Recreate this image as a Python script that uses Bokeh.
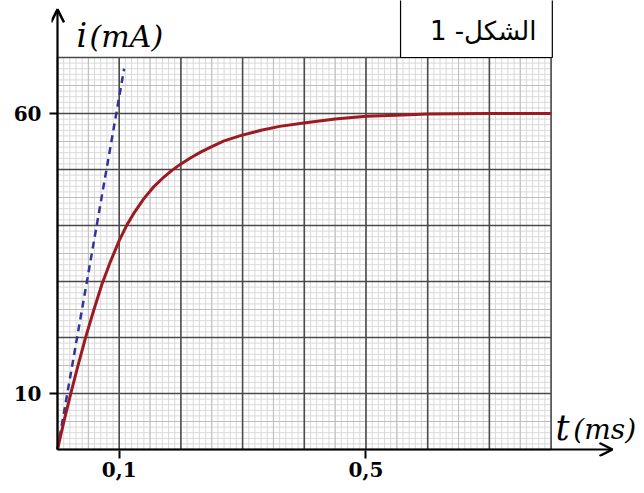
import numpy as np
from bokeh.plotting import figure
from bokeh.models import Range1d, LinearAxis, FixedTicker, Arrow, OpenHead, Label
from bokeh.embed import file_html
from bokeh.resources import INLINE

# data
t_ms = [0, 0.011, 0.022, 0.033, 0.045, 0.058, 0.072, 0.086, 0.1, 0.113, 0.125, 0.14, 0.155,
        0.17, 0.185, 0.2, 0.216, 0.232, 0.25, 0.27, 0.298, 0.33, 0.36, 0.399, 0.45, 0.5,
        0.55, 0.6, 0.7, 0.8]
i_mA = [0, 5.3, 10.2, 14.9, 19.8, 24.6, 29.5, 33.6, 37.3, 40.2, 42.4, 44.8, 46.8,
        48.4, 49.8, 51.0, 52.1, 53.1, 54.1, 55.1, 56.1, 57.0, 57.7, 58.3, 59.0, 59.5,
        59.7, 59.9, 60, 60]
tangent_t = [0, 0.108]
tangent_i = [0, 68]
x_ticks = [0.1, 0.5]
x_tick_labels = {0.1: "0,1", 0.5: "0,5"}
y_ticks = [10, 60]
grid_t_max = 0.8
grid_i_max = 70

W, H = 644, 493
p = figure(width=W, height=H, output_backend="svg", toolbar_location=None,
           x_range=Range1d(-0.00972, 0.9514), y_range=Range1d(-1.25, 80.18),
           x_axis_type=None, y_axis_type=None)
p.min_border = 0
p.min_border_left = 51
p.min_border_right = 0
p.min_border_top = 0
p.min_border_bottom = 37
p.outline_line_color = None
p.background_fill_color = "white"
p.grid.visible = False

# millimetre grid
def vlines(xs, color, w):
    p.segment(x0=xs, y0=np.zeros_like(xs), x1=xs, y1=np.full_like(xs, grid_i_max),
              line_color=color, line_width=w)

def hlines(ys, color, w):
    p.segment(x0=np.zeros_like(ys), y0=ys, x1=np.full_like(ys, grid_t_max), y1=ys,
              line_color=color, line_width=w)

minor_x = np.round(np.arange(0, grid_t_max + 1e-9, 0.01), 4)
minor_y = np.arange(0, grid_i_max + 1e-9, 1.0)
mid_x = np.round(np.arange(0.05, grid_t_max, 0.1), 4)
mid_y = np.arange(5, grid_i_max, 10.0)
major_x = np.round(np.arange(0, grid_t_max + 1e-9, 0.1), 4)
major_y = np.arange(0, grid_i_max + 1e-9, 10.0)
vlines(minor_x, "#d9d9d9", 1)
hlines(minor_y, "#d9d9d9", 1)
vlines(mid_x, "#bdbdbd", 1)
hlines(mid_y, "#bdbdbd", 1)
vlines(major_x, "#4a4a4a", 1.6)
hlines(major_y, "#4a4a4a", 1.6)

# tangent and curve
p.line(tangent_t, tangent_i, line_color="#33339a", line_width=2.5, line_dash="7 5")
p.line(t_ms, i_mA, line_color="#9a1b22", line_width=3, line_join="round")

# axes (ticks and labels from Bokeh axes, axis lines drawn as arrows)
serif = "DejaVu Serif"
xa = LinearAxis(ticker=FixedTicker(ticks=x_ticks), major_label_overrides=x_tick_labels)
ya = LinearAxis(ticker=FixedTicker(ticks=y_ticks))
for ax in (xa, ya):
    ax.axis_line_color = None
    ax.major_tick_line_color = "black"
    ax.major_tick_line_width = 2
    ax.major_tick_out = 2
    ax.major_tick_in = 6
    ax.minor_tick_line_color = None
    ax.major_label_text_font = serif
    ax.major_label_text_font_style = "bold"
    ax.major_label_text_font_size = "20px"
    ax.major_label_text_color = "black"
xa.major_label_standoff = 3
ya.major_label_standoff = 8
p.add_layout(xa, "below")
p.add_layout(ya, "left")

p.add_layout(Arrow(end=OpenHead(size=13, line_width=2.5, line_color="black"),
                   x_start=0, y_start=0, x_end=0.8995, y_end=0,
                   line_color="black", line_width=2.2))
p.add_layout(Arrow(end=OpenHead(size=13, line_width=2.5, line_color="black"),
                   x_start=0, y_start=0, x_end=0, y_end=78.6,
                   line_color="black", line_width=2.2))

# axis titles
p.add_layout(Label(x=0.031, y=73.9, text="i", text_font=serif, text_font_style="italic",
                   text_font_size="33px", text_baseline="alphabetic", text_color="black"))
p.add_layout(Label(x=0.052, y=73.8, text="(mA)", text_font=serif, text_font_style="italic",
                   text_font_size="30px", text_baseline="alphabetic", text_color="black"))
p.add_layout(Label(x=0.807, y=3.9, text="t", text_font=serif, text_font_style="italic",
                   text_font_size="35px", text_baseline="alphabetic", text_color="black"))
p.add_layout(Label(x=0.836, y=3.5, text="(ms)", text_font=serif, text_font_style="italic",
                   text_font_size="28px", text_baseline="alphabetic", text_color="black"))

# figure caption box
p.quad(left=[0.556], right=[0.802], bottom=[70], top=[90], fill_color="white",
       line_color="black", line_width=1.2)
p.add_layout(Label(x=0.690, y=74.8, text="الشكل- 1",
                   text_font="DejaVu Sans",
                   text_font_size="26px", text_align="center", text_baseline="middle",
                   text_color="black"))

open("out.html", "w").write(file_html(p, INLINE))
